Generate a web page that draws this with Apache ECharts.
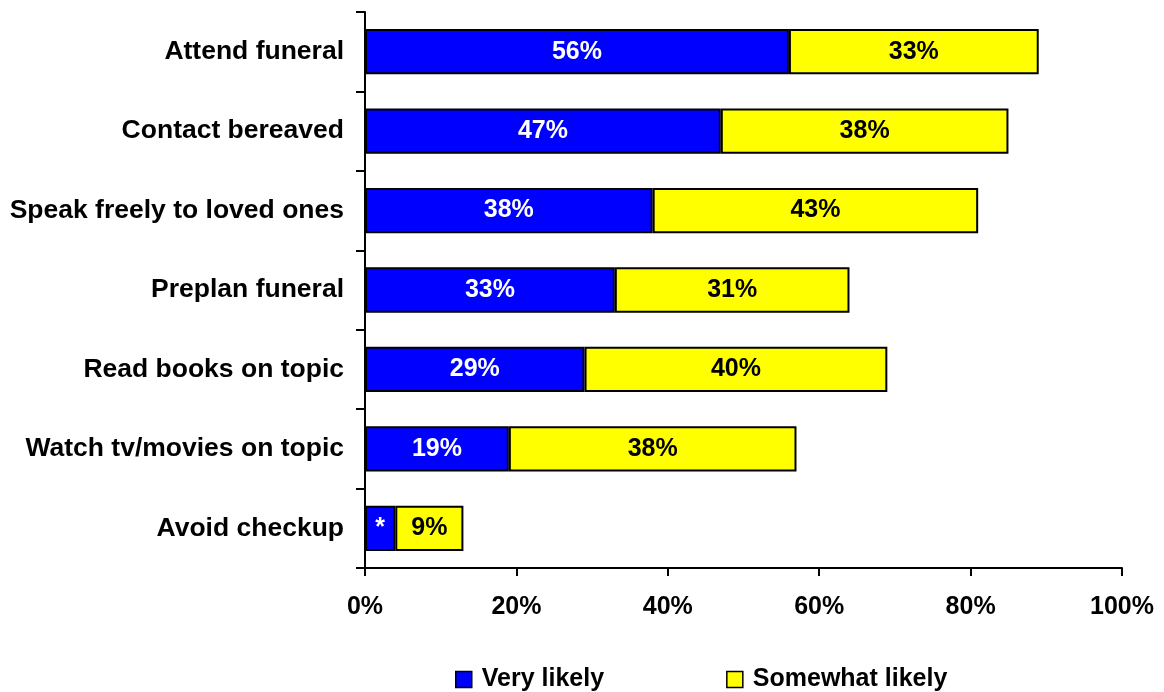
<!DOCTYPE html>
<html><head><meta charset="utf-8">
<script src="https://cdn.jsdelivr.net/npm/echarts@6/dist/echarts.min.js"></script>
<style>html,body{margin:0;padding:0;background:#fff}#c{width:1164px;height:692px}</style>
</head><body><div id="c"></div>
<script>
const categories = ["Attend funeral","Contact bereaved","Speak freely to loved ones","Preplan funeral","Read books on topic","Watch tv/movies on topic","Avoid checkup"];
const veryLikely = [56,47,38,33,29,19,4];
const somewhatLikely = [33,38,43,31,40,38,9];
const veryLabels = ["56%","47%","38%","33%","29%","19%","*"];
const somewhatLabels = ["33%","38%","43%","31%","40%","38%","9%"];
const xTicks = [0,20,40,60,80,100];

const font = "Liberation Sans, Arial, sans-serif";
const chart = echarts.init(document.getElementById('c'));
chart.setOption({
  animation:false,
  textStyle:{fontFamily:font},
  grid:{left:365,right:42,top:12,bottom:124,containLabel:false},
  legend:{
    left:450, top:662, itemGap:122, itemWidth:16, itemHeight:16,
    icon:'rect',
    textStyle:{fontFamily:font,fontWeight:'bold',fontSize:25,color:'#000',padding:[0,0,0,5]},
    data:[{name:'Very likely',itemStyle:{borderColor:'#000',borderWidth:1.5}},{name:'Somewhat likely',itemStyle:{borderColor:'#000',borderWidth:1.5}}]
  },
  xAxis:{
    type:'value', min:0, max:100, interval:20,
    axisLine:{show:true,lineStyle:{color:'#000',width:2}},
    axisTick:{show:true,length:8,lineStyle:{color:'#000',width:2}},
    splitLine:{show:false},
    axisLabel:{margin:27,fontFamily:font,fontWeight:'bold',fontSize:25,color:'#000',
      formatter:v=>xTicks.includes(v)?v+'%':''}
  },
  yAxis:{
    type:'category', data:categories, inverse:true,
    axisLine:{show:true,lineStyle:{color:'#000',width:2}},
    axisTick:{show:true,length:9,lineStyle:{color:'#000',width:2}},
    axisLabel:{margin:21,fontFamily:font,fontWeight:'bold',fontSize:26.5,color:'#000'}
  },
  series:[
    {name:'Very likely',type:'bar',stack:'a',data:veryLikely,barCategoryGap:'43%',
     itemStyle:{color:'#0000ff',borderColor:'#000',borderWidth:2},
     label:{show:true,position:'inside',color:'#fff',fontFamily:font,fontWeight:'bold',fontSize:25,
       formatter:p=>veryLabels[p.dataIndex]}},
    {name:'Somewhat likely',type:'bar',stack:'a',data:somewhatLikely,
     itemStyle:{color:'#ffff00',borderColor:'#000',borderWidth:2},
     label:{show:true,position:'inside',color:'#000',fontFamily:font,fontWeight:'bold',fontSize:25,
       formatter:p=>somewhatLabels[p.dataIndex]}}
  ]
});
</script></body></html>
